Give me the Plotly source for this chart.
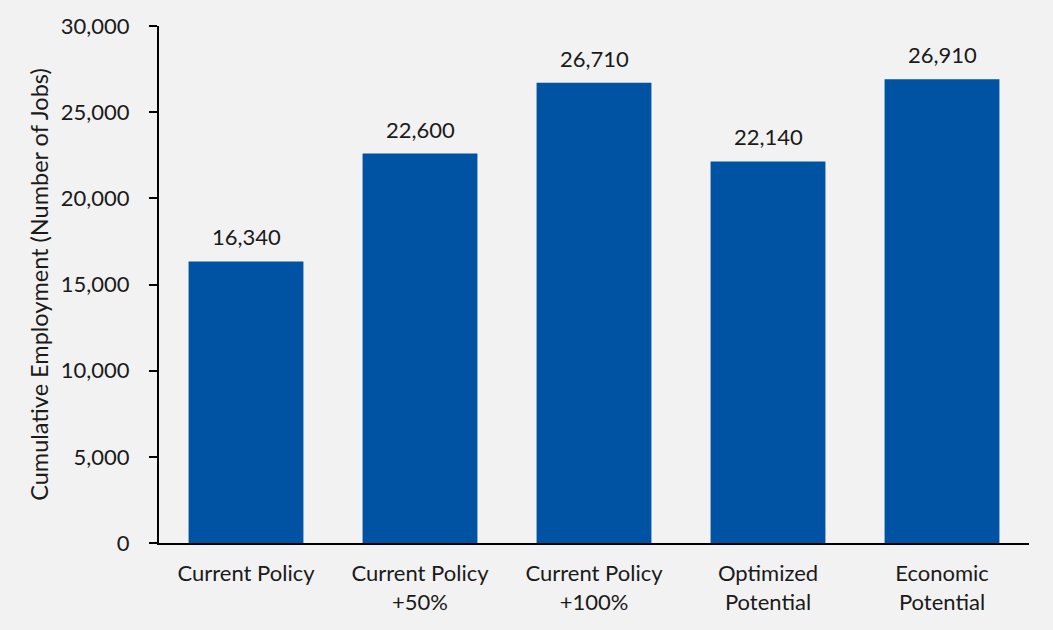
import plotly.graph_objects as go

categories = ["Current Policy", "Current Policy<br>+50%", "Current Policy<br>+100%", "Optimized<br>Potential", "Economic<br>Potential"]
values = [16340, 22600, 26710, 22140, 26910]
tick_vals = [0, 5000, 10000, 15000, 20000, 25000, 30000]
tick_text = ["0", "5,000", "10,000", "15,000", "20,000", "25,000", "30,000"]

font_family = "Lato, Open Sans, sans-serif"
text_color = "#1a1a1a"

fig = go.Figure(go.Bar(
    x=categories, y=values,
    marker=dict(color="#0052A3", line=dict(width=0)),
    width=0.66,
    hoverinfo="x+y",
))

for c, v in zip(categories, values):
    fig.add_annotation(
        x=c, y=v, text=f"{v:,}", showarrow=False,
        yanchor="bottom", yshift=9,
        font=dict(size=22, color=text_color, family=font_family),
    )

fig.update_layout(
    width=1053, height=630,
    paper_bgcolor="#f2f2f2", plot_bgcolor="#f2f2f2",
    margin=dict(l=159, r=24, t=26, b=87),
    showlegend=False,
    font=dict(family=font_family, size=22, color=text_color),
)
fig.update_yaxes(
    range=[0, 30000], tickvals=tick_vals, ticktext=tick_text,
    showgrid=False, zeroline=False,
    showline=True, linecolor="black", linewidth=2,
    ticks="outside", ticklen=8, tickwidth=2, tickcolor="black",
    tickfont=dict(size=22), ticklabelstandoff=15,
    title=dict(text="Cumulative Employment (Number of Jobs)", font=dict(size=23.5), standoff=6),
)
fig.update_xaxes(
    showgrid=False, showline=True, linecolor="black", linewidth=2,
    ticks="", tickfont=dict(size=22), ticklabelstandoff=10,
)

fig.write_html("out.html")
